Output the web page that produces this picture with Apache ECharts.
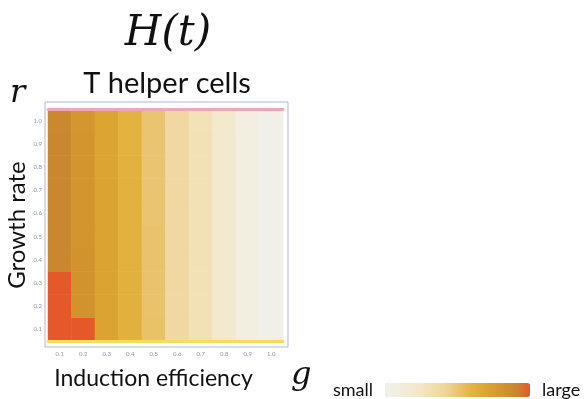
<!DOCTYPE html>
<html>
<head>
<meta charset="utf-8">
<script src="https://cdn.jsdelivr.net/npm/echarts@6/dist/echarts.min.js"></script>
<style>
  html, body { margin: 0; padding: 0; background: #fff; }
  #chart { width: 584px; height: 399px; }
</style>
</head>
<body>
<div id="chart"></div>
<script>
// induction efficiency g (x) and growth rate r (y)
const gLabels = ['0.1', '0.2', '0.3', '0.4', '0.5', '0.6', '0.7', '0.8', '0.9', '1.0'];
const rLabels = ['0.1', '0.2', '0.3', '0.4', '0.5', '0.6', '0.7', '0.8', '0.9', '1.0'];

// relative H(t) level, one row per growth rate (bottom row first)
const levels = [
  [1.00, 1.00, 0.71, 0.62, 0.52, 0.40, 0.30, 0.20, 0.10, 0.02],
  [1.00, 0.82, 0.71, 0.62, 0.51, 0.40, 0.30, 0.20, 0.10, 0.02],
  [1.00, 0.82, 0.71, 0.62, 0.51, 0.40, 0.30, 0.20, 0.10, 0.02],
  [0.90, 0.82, 0.71, 0.61, 0.51, 0.40, 0.30, 0.20, 0.10, 0.02],
  [0.90, 0.81, 0.71, 0.61, 0.51, 0.40, 0.30, 0.20, 0.10, 0.02],
  [0.90, 0.81, 0.71, 0.61, 0.50, 0.40, 0.30, 0.20, 0.10, 0.02],
  [0.90, 0.81, 0.71, 0.61, 0.50, 0.40, 0.30, 0.20, 0.10, 0.02],
  [0.90, 0.81, 0.70, 0.61, 0.50, 0.40, 0.30, 0.20, 0.10, 0.02],
  [0.90, 0.81, 0.70, 0.60, 0.50, 0.40, 0.30, 0.20, 0.10, 0.02],
  [0.89, 0.80, 0.70, 0.60, 0.50, 0.39, 0.29, 0.19, 0.09, 0.01]
];

const palette = ['#f0f0ea', '#f2eee0', '#f3e9cc', '#f3e1b6', '#f1d7a0', '#eac470',
  '#e3b340', '#dca430', '#d4962e', '#c9882f', '#e5582a'];

const cells = [];
levels.forEach((row, yi) => row.forEach((v, xi) => cells.push([xi, yi, v])));

const sans = 'Lato';
const tickColor = '#8c94ac';

const chart = echarts.init(document.getElementById('chart'));
chart.setOption({
  animation: false,
  title: [
    { text: 'H(t)', left: 163, top: 8, textAlign: 'center',
      textStyle: { fontFamily: 'DejaVu Serif', fontStyle: 'italic', fontWeight: 'normal', fontSize: 42, color: '#111' } },
    { text: 'T helper cells', left: 162, top: 64, textAlign: 'center',
      textStyle: { fontFamily: sans, fontWeight: 'normal', fontSize: 29, color: '#111' } }
  ],
  graphic: [
    { type: 'text', left: 10, top: 78, style: { text: 'r', font: 'italic 32px "DejaVu Serif"', fill: '#111' } },
    { type: 'text', left: 291, top: 360, style: { text: 'g', font: 'italic 32px "DejaVu Serif"', fill: '#111' } }
  ],
  grid: [
    { left: 45, top: 102, width: 243, height: 245, show: true, borderColor: '#a9b8d6', borderWidth: 1, outerBoundsMode: 'none' },
    { left: 48, top: 109, width: 235, height: 232, outerBoundsMode: 'none' }
  ],
  xAxis: [
    { gridIndex: 0, type: 'value', show: false },
    {
      gridIndex: 1, type: 'category', data: gLabels, z: 3,
      name: 'Induction efficiency', nameLocation: 'middle', nameGap: 26,
      nameTextStyle: { fontFamily: sans, fontSize: 23, color: '#111', padding: [0, 24, 0, 0] },
      axisLine: { lineStyle: { color: '#f6dc5c', width: 3 } },
      axisTick: { alignWithLabel: true, length: 4, lineStyle: { color: tickColor } },
      axisLabel: { fontFamily: sans, fontSize: 6, color: tickColor, margin: 10 },
      splitArea: { show: false }
    },
    {
      gridIndex: 1, type: 'category', data: gLabels, position: 'top', z: 3,
      axisLine: { lineStyle: { color: '#eaa8ba', width: 3 } },
      axisTick: { show: false }, axisLabel: { show: false }
    }
  ],
  yAxis: [
    { gridIndex: 0, type: 'value', show: false },
    {
      gridIndex: 1, type: 'category', data: rLabels,
      name: 'Growth rate', nameLocation: 'middle', nameGap: 17,
      nameTextStyle: { fontFamily: sans, fontSize: 24, color: '#111' },
      axisLine: { show: false },
      axisTick: { alignWithLabel: true, length: 3, lineStyle: { color: tickColor } },
      axisLabel: { fontFamily: sans, fontSize: 6, color: tickColor, margin: 6 },
      splitArea: { show: false }
    }
  ],
  visualMap: {
    type: 'continuous', min: 0, max: 1, calculable: false,
    orient: 'horizontal', left: 333, top: 381, padding: 0,
    itemWidth: 14, itemHeight: 145,
    text: ['large', 'small'], textGap: 12,
    textStyle: { fontFamily: sans, fontSize: 18, color: '#111' },
    inRange: { color: palette },
    seriesIndex: 0
  },
  series: [{
    type: 'heatmap', xAxisIndex: 1, yAxisIndex: 1,
    data: cells,
    itemStyle: { borderWidth: 0 },
    emphasis: { disabled: true }
  }]
});
</script>
</body>
</html>
